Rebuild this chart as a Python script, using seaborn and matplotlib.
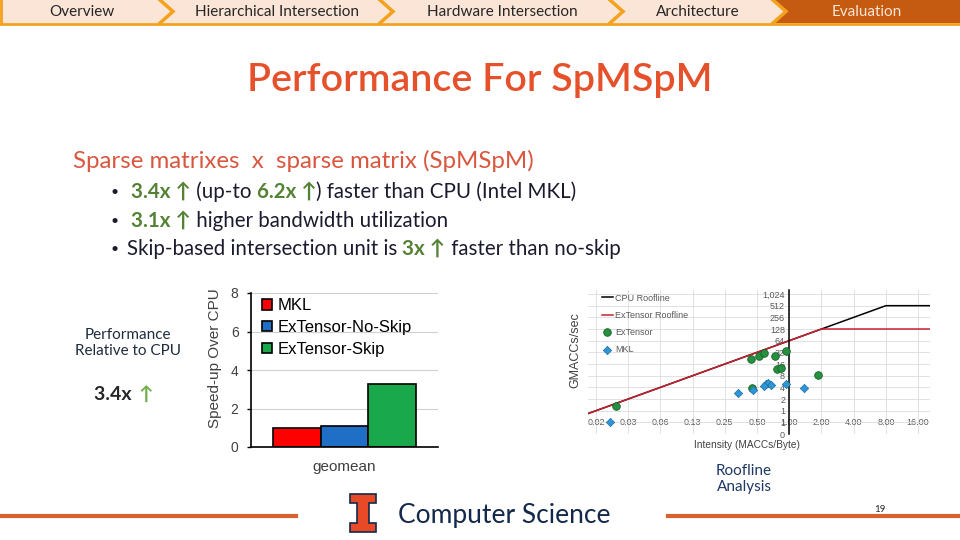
import numpy as np
import pandas as pd
import seaborn as sns
import matplotlib.pyplot as plt
from matplotlib.patches import Polygon, Rectangle
from matplotlib.ticker import NullLocator

# ---- data ----
nav_items = ['Overview', 'Hierarchical Intersection', 'Hardware Intersection', 'Architecture', 'Evaluation']

speedup_group = ['geomean']
speedup_series = ['MKL', 'ExTensor-No-Skip', 'ExTensor-Skip']
speedup_values = [1.0, 1.1, 3.25]
speedup_colors = ['#ff0000', '#1f6fc6', '#19a84b']

roof_xticks = [1/64, 1/32, 1/16, 1/8, 0.25, 0.5, 1, 2, 4, 8, 16]
roof_xlabels = ['0.02', '0.03', '0.06', '0.13', '0.25', '0.50', '1.00', '2.00', '4.00', '8.00', '16.00']
roof_yticks = [0.25, 0.5, 1, 2, 4, 8, 16, 32, 64, 128, 256, 512, 1024]
roof_ylabels = ['0', '1', '1', '2', '4', '8', '16', '32', '64', '128', '256', '512', '1,024']

cpu_roof_x = [1/128, 8, 32]
cpu_roof_y = [0.5, 512, 512]
ext_roof_x = [1/128, 2, 32]
ext_roof_y = [0.5, 128, 128]

extensor_x = [0.024, 0.44, 0.525, 0.58, 0.73, 0.94, 0.76, 0.84, 1.85, 0.45]
extensor_y = [1.33, 22, 25.7, 30, 26, 34.6, 11.8, 12.5, 8.4, 3.9]
mkl_x = [0.021, 0.33, 0.46, 0.60, 0.63, 0.67, 0.58, 0.94, 1.38]
mkl_y = [0.5, 2.9, 3.4, 4.8, 5.1, 4.5, 4.3, 4.8, 3.9]

SLIDE = ['Lato', 'DejaVu Sans']
CHART = ['Liberation Sans', 'DejaVu Sans']
GREEN = '#548235'
DARK = '#1b1b2f'

plt.rcParams['font.family'] = SLIDE

fig = plt.figure(figsize=(9.6, 5.4), dpi=100)
bg = fig.add_axes([0, 0, 1, 1])
bg.set_xlim(0, 960)
bg.set_ylim(540, 0)
bg.axis('off')

#%% nav bar
bg.add_patch(Rectangle((0, 0), 960, 23, facecolor='#fbe5d6', edgecolor='none'))
bg.add_patch(Polygon([(773, 0), (960, 0), (960, 23), (773, 23), (786, 11.5)],
                     facecolor='#c55a11', edgecolor='none'))
for b in [160, 380, 610, 773]:
    bg.plot([b, b + 13, b], [0, 11.5, 23], color='#f4a11e', lw=2.5, solid_joinstyle='miter')
bg.plot([0, 960], [23.5, 23.5], color='#f4a11e', lw=2)
bg.plot([0.5, 0.5], [0, 23], color='#f4a11e', lw=2)
for name, cx in zip(nav_items, [82, 277, 502, 698, 867]):
    col = '#fbe5d6' if name == 'Evaluation' else '#262626'
    bg.text(cx, 12.5, name, ha='center', va='center', fontsize=11, color=col)

#%% titles / bullets
bg.text(480, 80, 'Performance For SpMSpM', ha='center', va='center',
        fontsize=28.4, color='#e5512b', fontweight='semibold')
bg.text(73, 161, 'Sparse matrixes  x  sparse matrix (SpMSpM)', ha='left', va='center',
        fontsize=17.3, color='#d9573f')


def rich_line(x, y, parts, size=14.8):
    t = None
    for s, c, w in parts:
        kw = dict(color=c, fontsize=size, fontweight=w, family=SLIDE, va='center', ha='left')
        if t is None:
            t = bg.text(x, y, s, **kw)
        else:
            t = bg.annotate(s, xy=(1, 0.5), xycoords=t, **kw)


bullets = [
    (192, 131, [('3.4x ↑', GREEN, 'bold'), (' (up-to ', DARK, 'normal'), ('6.2x ↑', GREEN, 'bold'),
                (') faster than CPU (Intel MKL)', DARK, 'normal')]),
    (221, 131, [('3.1x ↑', GREEN, 'bold'), (' higher bandwidth utilization', DARK, 'normal')]),
    (249, 127, [('Skip-based intersection unit is ', DARK, 'normal'), ('3x ↑', GREEN, 'bold'),
                (' faster than no-skip', DARK, 'normal')]),
]
for y, x0, parts in bullets:
    bg.text(111, y, '•', ha='left', va='center', fontsize=10, color=DARK)
    rich_line(x0, y, parts)

bg.text(128, 343, 'Performance\nRelative to CPU', ha='center', va='center',
        fontsize=11, color='#1f2d3d', linespacing=1.15)
bg.text(115, 395, '3.4x ', ha='center', va='center', fontsize=14, fontweight='bold', color='#262626')
bg.text(146, 395, '↑', ha='center', va='center', fontsize=14, fontweight='bold', color='#70ad47')

bg.text(744, 479, 'Roofline\nAnalysis', ha='center', va='center', fontsize=11,
        color='#1f3864', linespacing=1.2)

#%% footer
bg.plot([0, 296], [516, 516], color='#d9612e', lw=3)
bg.plot([668, 960], [516, 516], color='#d9612e', lw=3)
bg.add_patch(Polygon([(350, 494), (376, 494), (376, 503), (369, 503), (369, 523), (376, 523),
                      (376, 532), (350, 532), (350, 523), (357, 523), (357, 503), (350, 503)],
                     facecolor='#e84a27', edgecolor='#13294b', lw=1.2))
bg.text(398, 515, 'Computer Science', ha='left', va='center', fontsize=19, color='#13294b')
bg.text(880, 510, '19', ha='center', va='center', fontsize=7, color='#262626')

#%% speed-up bar chart
bar_df = pd.DataFrame({'group': speedup_group * len(speedup_series),
                       'series': speedup_series,
                       'speedup': speedup_values})
ax1 = fig.add_axes([251 / 960, (540 - 447) / 540, 187 / 960, 154 / 540])
sns.barplot(data=bar_df, x='group', y='speedup', hue='series', palette=speedup_colors,
            saturation=1, width=0.76, edgecolor='black', linewidth=1.2, ax=ax1)
ax1.set_ylim(0, 8)
ax1.set_xlim(-0.5, 0.5)
ax1.set_yticks([0, 2, 4, 6, 8])
ax1.yaxis.grid(True, color='#d0d0d0', lw=0.8)
ax1.set_axisbelow(True)
for s in ['top', 'right']:
    ax1.spines[s].set_visible(False)
for s in ['left', 'bottom']:
    ax1.spines[s].set_color('black')
    ax1.spines[s].set_linewidth(1.2)
ax1.tick_params(axis='y', length=3, width=1, pad=6, labelsize=10, labelcolor='#404040')
ax1.tick_params(axis='x', length=0, pad=9, labelsize=11, labelcolor='#404040')
for lab in ax1.get_xticklabels() + ax1.get_yticklabels():
    lab.set_family(CHART)
ax1.set_xlabel('')
ax1.set_ylabel('Speed-up Over CPU', fontsize=11, color='#404040', family=CHART)
ax1.yaxis.set_label_coords(-0.155, 0.58)
ax1.legend(loc='upper left', bbox_to_anchor=(0.06, 0.965), frameon=False,
           prop={'family': CHART, 'size': 12}, handlelength=0.6, handleheight=0.6,
           handletextpad=0.3, labelspacing=0.4, borderpad=0, borderaxespad=0)

#%% roofline chart
ax2 = fig.add_axes([588 / 960, (540 - 434) / 540, 342 / 960, 144 / 540])
ax2.set_xscale('log', base=2)
ax2.set_yscale('log', base=2)
ax2.plot(cpu_roof_x, cpu_roof_y, color='black', lw=1.1, label='CPU Roofline')
ax2.plot(ext_roof_x, ext_roof_y, color='#c8202f', lw=1.1, label='ExTensor Roofline')
sns.scatterplot(x=extensor_x, y=extensor_y, color='#259140', edgecolor='#17602a', linewidth=0.6,
                marker='o', s=30, label='ExTensor', ax=ax2, zorder=3)
sns.scatterplot(x=mkl_x, y=mkl_y, color='#2e96d6', edgecolor='#1d6f9e', linewidth=0.5,
                marker='D', s=18, label='MKL', ax=ax2, zorder=3)
ax2.set_xlim(2 ** -6.25, 2 ** 4.37)
ax2.set_ylim(0.25, 1300)
ax2.set_xticks(roof_xticks)
ax2.set_xticklabels(roof_xlabels)
ax2.set_yticks(roof_yticks)
ax2.set_yticklabels(roof_ylabels)
ax2.xaxis.set_minor_locator(NullLocator())
ax2.yaxis.set_minor_locator(NullLocator())
ax2.grid(True, color='#dcdcdc', lw=0.6)
ax2.set_axisbelow(True)
for s in ['top', 'right']:
    ax2.spines[s].set_visible(False)
ax2.spines['left'].set_position(('data', 1.0))
ax2.spines['left'].set_color('black')
ax2.spines['left'].set_linewidth(1.1)
ax2.spines['bottom'].set_position(('data', 0.5))
ax2.spines['bottom'].set_visible(False)
ax2.tick_params(axis='x', length=0, pad=-3.3, labelsize=6.5, labelcolor='#595959')
ax2.tick_params(axis='y', length=0, pad=3, labelsize=6.5, labelcolor='#595959')
for lab in ax2.get_xticklabels() + ax2.get_yticklabels():
    lab.set_family(CHART)
ax2.set_xlabel('Intensity (MACCs/Byte)', fontsize=7.3, color='#404040', family=CHART)
ax2.xaxis.set_label_coords(0.465, -0.04)
ax2.set_ylabel('GMACCs/sec', fontsize=9, color='#404040', family=CHART)
ax2.yaxis.set_label_coords(-0.02, 0.58)
ax2.legend(loc='upper left', bbox_to_anchor=(0.04, 0.975), frameon=False,
           prop={'family': CHART, 'size': 6.5}, labelcolor='#595959', handlelength=1.2,
           handletextpad=0.3, labelspacing=0.9, borderpad=0, borderaxespad=0)

fig.savefig('out.png', dpi=100)
